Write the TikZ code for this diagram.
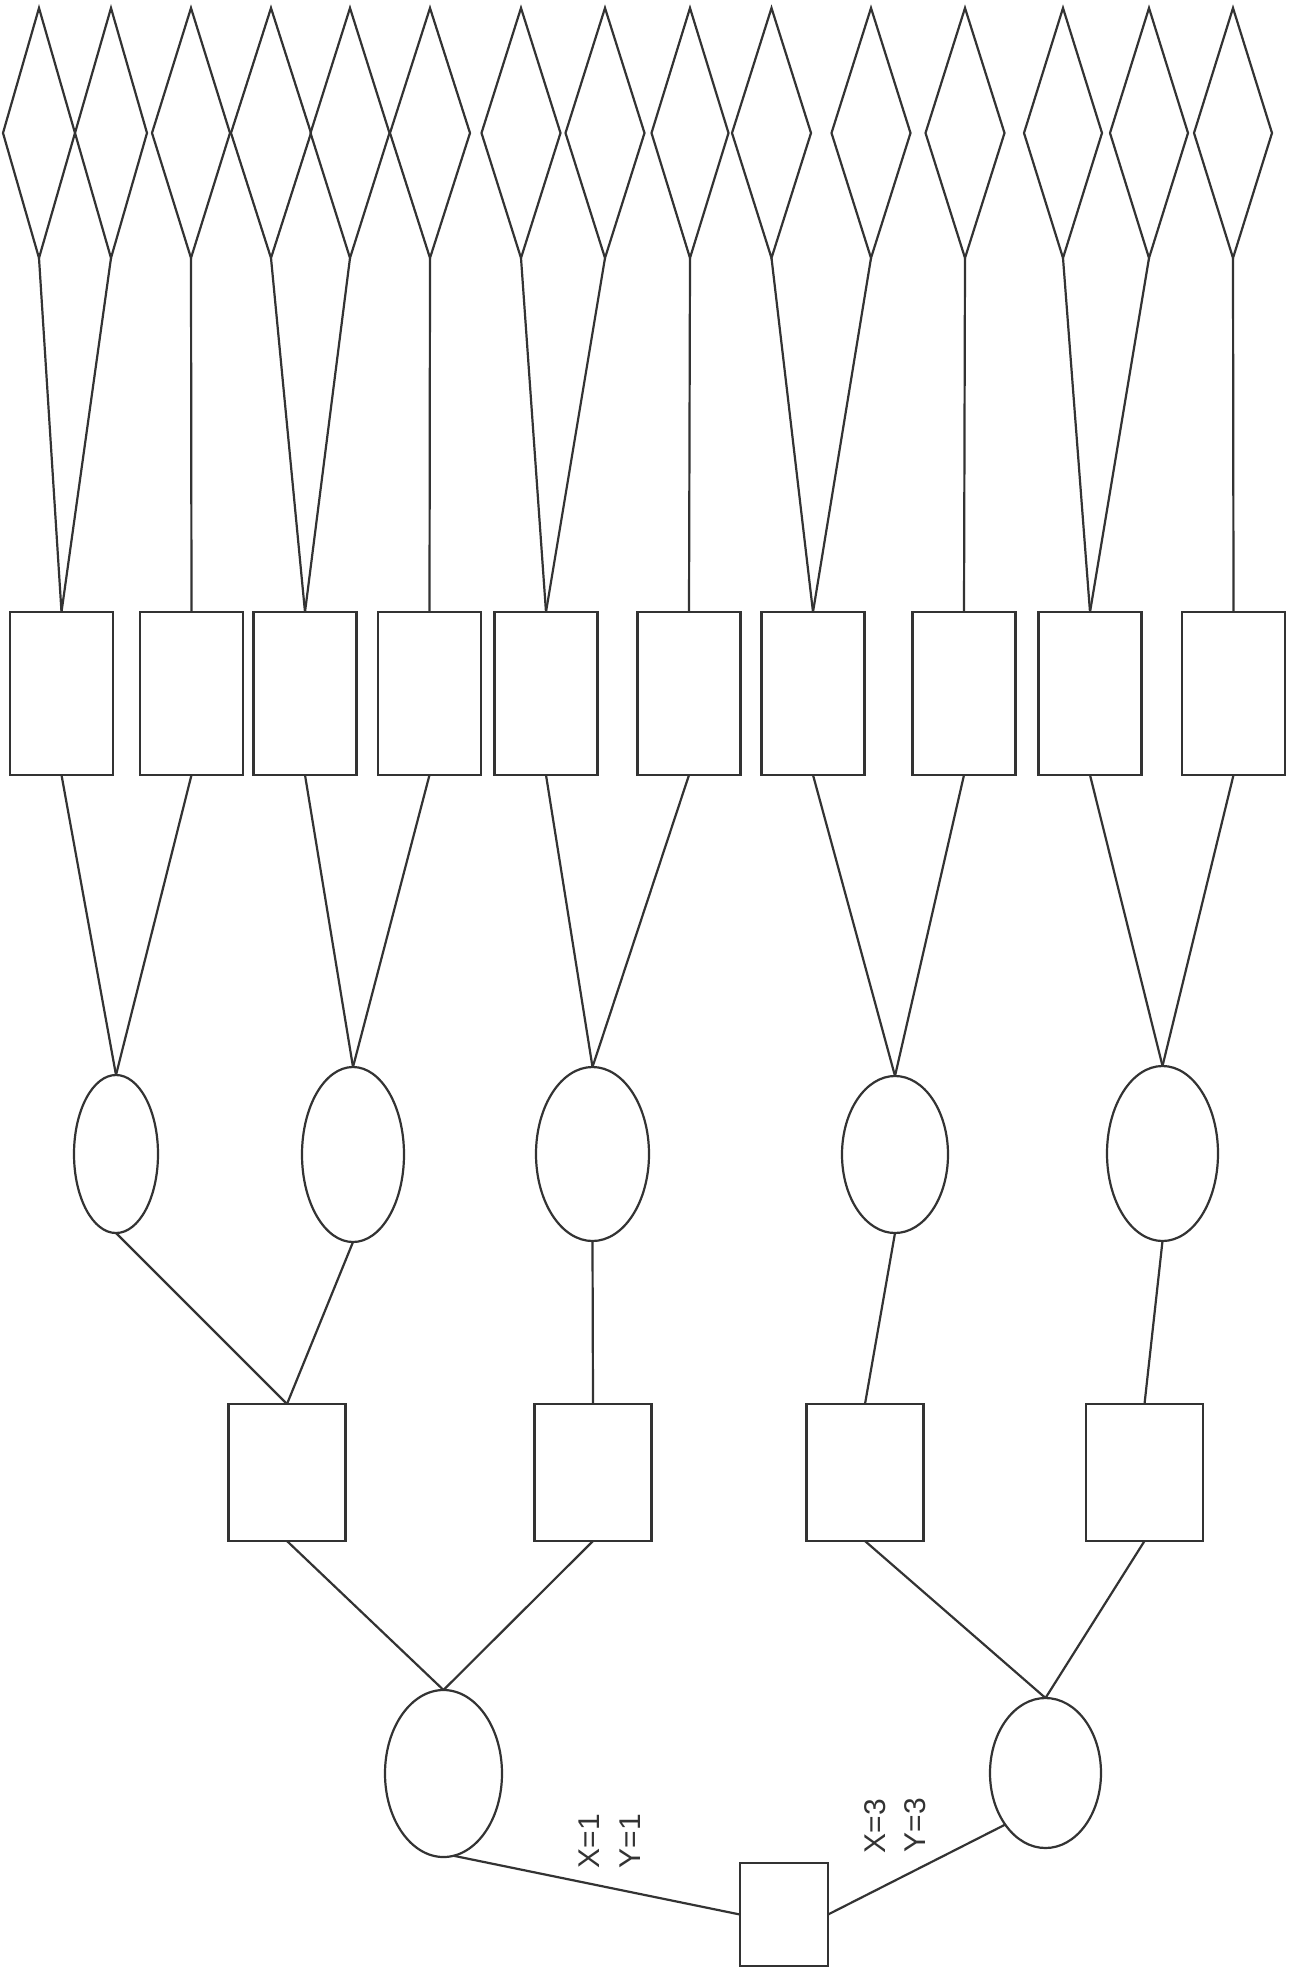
\documentclass[tikz,border=0pt]{standalone}
\usepackage{fontspec}
\newfontfamily\labfont{Liberation Sans}
\usetikzlibrary{shapes.geometric}
\definecolor{ink}{HTML}{333333}
\begin{document}
\begin{tikzpicture}[x=1pt,y=-1pt,
  line width=2.2pt, draw=ink,
  every node/.style={draw=ink, line width=2.2pt, inner sep=0pt, outer sep=0pt},
  dia/.style={diamond, minimum height=250pt, minimum width=#1},
  dia/.default=79pt,
  oval/.style={ellipse},
  lab/.style={draw=none, rotate=90, font=\labfont\fontsize{30}{30}\selectfont, text=ink},
  conn/.style={draw=ink, line width=2.2pt}]
\useasboundingbox[fill=white] (0,0) rectangle (1300,1976);
% level 1: diamonds
\node[dia=72pt] (d1) at (39,133) {};
\node[dia=72pt] (d2) at (111,133) {};
\node[dia=78pt] (d3) at (191,133) {};
\node[dia=80pt] (d4) at (271,133) {};
\node[dia=79pt] (d5) at (350,133) {};
\node[dia=80pt] (d6) at (430,133) {};
\node[dia=79pt] (d7) at (521,133) {};
\node[dia=79pt] (d8) at (605,133) {};
\node[dia=77pt] (d9) at (690,133) {};
\node[dia=79pt] (d10) at (771.5,133) {};
\node[dia=79pt] (d11) at (871,133) {};
\node[dia=79pt] (d12) at (965,133) {};
\node[dia=78pt] (d13) at (1063,133) {};
\node[dia=78pt] (d14) at (1149,133) {};
\node[dia=78pt] (d15) at (1233,133) {};
% level 2: rectangles
\tikzset{lvtwo/.style={rectangle, minimum width=103pt, minimum height=163pt}}
\node[lvtwo] (r1) at (61.5,693.5) {};
\node[lvtwo] (r2) at (191.5,693.5) {};
\node[lvtwo] (r3) at (305,693.5) {};
\node[lvtwo] (r4) at (429.5,693.5) {};
\node[lvtwo] (r5) at (546,693.5) {};
\node[lvtwo] (r6) at (689,693.5) {};
\node[lvtwo] (r7) at (813,693.5) {};
\node[lvtwo] (r8) at (964,693.5) {};
\node[lvtwo] (r9) at (1090,693.5) {};
\node[lvtwo] (r10) at (1233.5,693.5) {};
% level 3: ellipses
\node[oval, minimum width=84pt, minimum height=158pt] (e1) at (116,1154) {};
\node[oval, minimum width=102pt, minimum height=175pt] (e2) at (353,1154.5) {};
\node[oval, minimum width=113pt, minimum height=174pt] (e3) at (592.5,1154) {};
\node[oval, minimum width=106pt, minimum height=157pt] (e4) at (895,1154.5) {};
\node[oval, minimum width=111pt, minimum height=175pt] (e5) at (1162.5,1153.5) {};
% level 4: rectangles
\tikzset{lvfour/.style={rectangle, minimum width=117pt, minimum height=137pt}}
\node[lvfour] (q1) at (287,1472.5) {};
\node[lvfour] (q2) at (593,1472.5) {};
\node[lvfour] (q3) at (865,1472.5) {};
\node[lvfour] (q4) at (1144.5,1472.5) {};
% level 5: ellipses
\node[oval, minimum width=117pt, minimum height=167pt] (f1) at (443.5,1773.5) {};
\node[oval, minimum width=111pt, minimum height=150pt] (f2) at (1045.5,1773) {};
% root square
\node[rectangle, minimum width=88pt, minimum height=103pt] (s) at (784,1914.5) {};
% connectors level 1 -> 2
\draw[conn] (d1.south) -- (r1.north);
\draw[conn] (d2.south) -- (r1.north);
\draw[conn] (d3.south) -- (r2.north);
\draw[conn] (d4.south) -- (r3.north);
\draw[conn] (d5.south) -- (r3.north);
\draw[conn] (d6.south) -- (r4.north);
\draw[conn] (d7.south) -- (r5.north);
\draw[conn] (d8.south) -- (r5.north);
\draw[conn] (d9.south) -- (r6.north);
\draw[conn] (d10.south) -- (r7.north);
\draw[conn] (d11.south) -- (r7.north);
\draw[conn] (d12.south) -- (r8.north);
\draw[conn] (d13.south) -- (r9.north);
\draw[conn] (d14.south) -- (r9.north);
\draw[conn] (d15.south) -- (r10.north);
% level 2 -> 3
\draw[conn] (r1.south) -- (e1.north);
\draw[conn] (r2.south) -- (e1.north);
\draw[conn] (r3.south) -- (e2.north);
\draw[conn] (r4.south) -- (e2.north);
\draw[conn] (r5.south) -- (e3.north);
\draw[conn] (r6.south) -- (e3.north);
\draw[conn] (r7.south) -- (e4.north);
\draw[conn] (r8.south) -- (e4.north);
\draw[conn] (r9.south) -- (e5.north);
\draw[conn] (r10.south) -- (e5.north);
% level 3 -> 4
\draw[conn] (e1.south) -- (q1.north);
\draw[conn] (e2.south) -- (q1.north);
\draw[conn] (e3.south) -- (q2.north);
\draw[conn] (e4.south) -- (q3.north);
\draw[conn] (e5.south) -- (q4.north);
% level 4 -> 5
\draw[conn] (q1.south) -- (f1.north);
\draw[conn] (q2.south) -- (f1.north);
\draw[conn] (q3.south) -- (f2.north);
\draw[conn] (q4.south) -- (f2.north);
% level 5 -> root
\draw[conn] (f1.277) -- (s.west);
\draw[conn] (s.east) -- (f2.232);
% labels
\node[lab] (lx1) at (589,1841) {X=1};
\node[lab] (ly1) at (630,1841) {Y=1};
\node[lab] (lx3) at (875,1826) {X=3};
\node[lab] (ly3) at (915,1825) {Y=3};
\end{tikzpicture}
\end{document}
